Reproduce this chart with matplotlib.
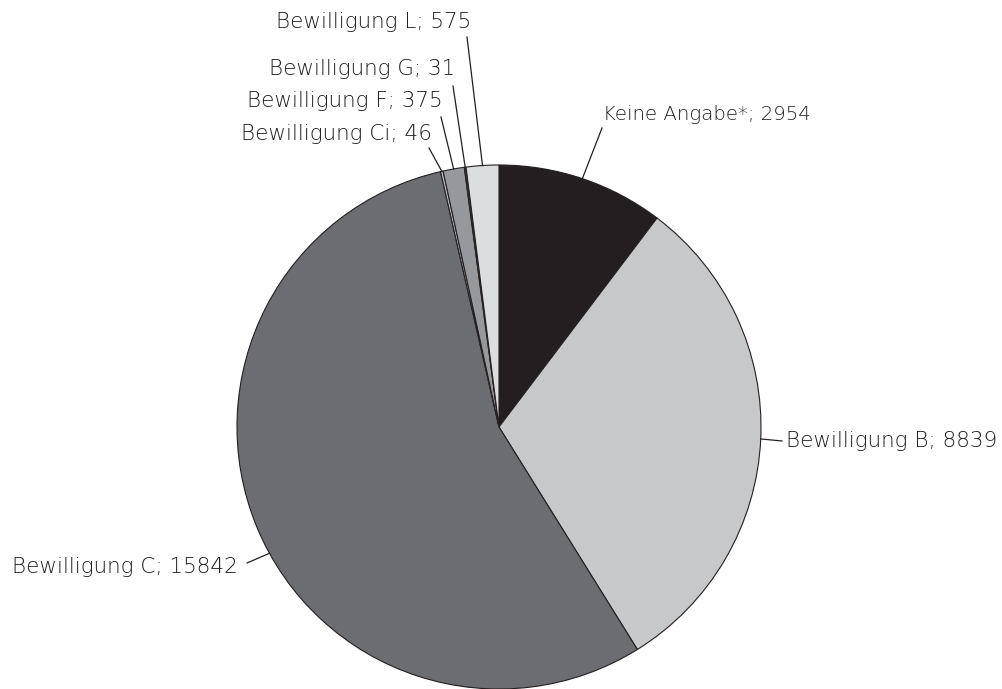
import numpy as np
import matplotlib
matplotlib.use("Agg")
import matplotlib.pyplot as plt

# Data
categories = ["Keine Angabe*", "Bewilligung B", "Bewilligung C", "Bewilligung Ci",
              "Bewilligung F", "Bewilligung G", "Bewilligung L"]
values = [2954, 8839, 15842, 46, 375, 31, 575]
colors = ["#231f20", "#c7c8ca", "#6c6d70", "#bdbec0", "#97989b", "#3d3d3f", "#dcdddf"]

# Layout (pixel coords, y from top)
W, H = 1003, 689
center_px = (499, 427)
radius_px = 262
# label text anchor (x, y), ha, line start (x, y), optional edge target, font size
label_layout = {
    "Keine Angabe*": ((603, 115), "left", (602, 128), None, 14.2),
    "Bewilligung B": ((786, 441), "left", (782, 441), None, 15.5),
    "Bewilligung C": ((238, 567), "right", (247, 563), (270, 553), 15.5),
    "Bewilligung Ci": ((432, 134), "right", (429, 148), None, 15.5),
    "Bewilligung F": ((443, 101), "right", (441, 117), None, 15.5),
    "Bewilligung G": ((455, 69), "right", (453, 86), None, 15.5),
    "Bewilligung L": ((471, 22), "right", (467, 37), None, 15.5),
}

plt.rcParams['font.family'] = ['DejaVu Sans']

fig = plt.figure(figsize=(W / 100, H / 100), dpi=100)
ax = fig.add_axes([0, 0, 1, 1])

cx, cy = center_px[0], H - center_px[1]
wedges, _ = ax.pie(values, colors=colors, startangle=90, counterclock=False,
                   center=(cx, cy), radius=radius_px,
                   wedgeprops=dict(edgecolor="#231f20", linewidth=0.8))
ax.set_xlim(0, W)
ax.set_ylim(0, H)
ax.set_aspect("equal")
ax.axis("off")

for w, cat, val in zip(wedges, categories, values):
    (tx, ty), ha, (lx, ly), target, fs = label_layout[cat]
    if target is None:
        mid = np.deg2rad((w.theta1 + w.theta2) / 2)
    else:
        mid = np.arctan2((H - target[1]) - cy, target[0] - cx)
    ex = cx + radius_px * np.cos(mid)
    ey = cy + radius_px * np.sin(mid)
    ax.plot([lx, ex], [H - ly, ey], color="#231f20", linewidth=0.9)
    ax.text(tx, H - ty, f"{cat}; {val}", ha=ha, va="center",
            fontsize=fs, fontweight="light", color="#231f20")

fig.savefig("out.png", dpi=100)
